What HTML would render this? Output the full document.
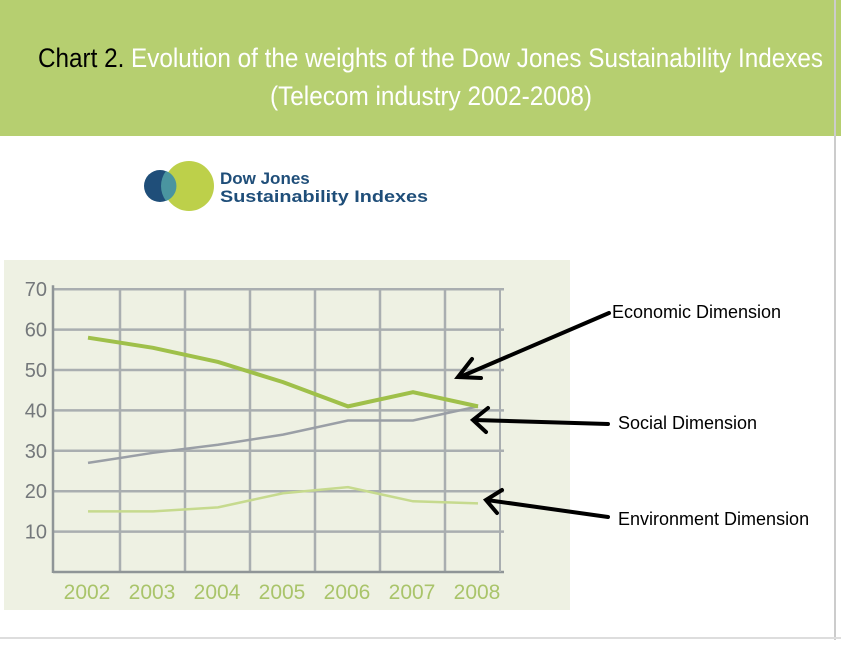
<!DOCTYPE html>
<html><head><meta charset="utf-8"><style>
body{margin:0;width:841px;height:640px;overflow:hidden;background:#fff;font-family:"Liberation Sans",Arial,sans-serif}
</style></head><body>
<svg width="841" height="640" viewBox="0 0 841 640" xmlns="http://www.w3.org/2000/svg">
<rect x="0" y="0" width="841" height="136" fill="#b6cf70"/>
<line x1="835" y1="0" x2="835" y2="640" stroke="#ccc" stroke-width="2"/>
<line x1="0" y1="638" x2="841" y2="638" stroke="#ddd" stroke-width="2"/>
<text x="38" y="67" font-size="27" textLength="785" lengthAdjust="spacingAndGlyphs"><tspan fill="#000">Chart 2.</tspan><tspan fill="#fff">  Evolution of the weights of the Dow Jones Sustainability Indexes</tspan></text>
<text x="270" y="105" font-size="27" fill="#fff" textLength="322" lengthAdjust="spacingAndGlyphs">(Telecom industry 2002-2008)</text>
<g>
<circle cx="160" cy="186" r="16" fill="#1f4e79"/>
<circle cx="189" cy="186" r="25" fill="#bdd04a"/>
<path d="M166 171 A16 16 0 0 1 166 201 A25 25 0 0 1 166 171Z" fill="#4a95a0"/>
<text x="220" y="184" font-size="17" font-weight="bold" fill="#1f4e79">Dow Jones</text>
<text x="220" y="202" font-size="17" font-weight="bold" fill="#1f4e79" textLength="208" lengthAdjust="spacingAndGlyphs">Sustainability Indexes</text>
</g>
<rect x="4" y="260" width="566" height="350" fill="#eef1e3"/>
<g id="grid"></g><g id="series"></g>
<g stroke="#000" stroke-width="4" fill="none" stroke-linecap="round">
<line x1="609" y1="313" x2="460" y2="377"/><polyline points="472,359 458,377 481,378"/>
<line x1="608" y1="424" x2="474" y2="420"/><polyline points="488,408 473,420 486,432"/>
<line x1="608" y1="517" x2="487" y2="500"/><polyline points="502,490 486,500 497,513"/>
</g>
<text x="612" y="318" font-size="18">Economic Dimension</text>
<text x="618" y="429" font-size="18">Social Dimension</text>
<text x="618" y="525" font-size="18">Environment Dimension</text>
</svg>
<script>
const years=["2002","2003","2004","2005","2006","2007","2008"];
const yTicks=[10,20,30,40,50,60,70];
const economic=[58,55.5,52,47,41,44.5,41];
const social=[27,29.5,31.5,34,37.5,37.5,41];
const environment=[15,15,16,19.5,21,17.5,17];
const NS="http://www.w3.org/2000/svg";
const x=i=>88+i*65, y=v=>572-v*4.04;
function mk(t,a,p){const e=document.createElementNS(NS,t);for(const k in a)e.setAttribute(k,a[k]);p.appendChild(e);return e;}
const g=document.getElementById('grid'), s=document.getElementById('series');
yTicks.forEach(v=>{
 const l=mk('line',{x1:53,x2:504,y1:y(v),y2:y(v),stroke:'#a9aeb0','stroke-width':2.5},g);
 
 
 const t=mk('text',{x:47,y:y(v)+7,'font-size':20,fill:'#74787b','text-anchor':'end'},g);t.textContent=v;
 
 
});
years.forEach((yr,i)=>{
 const gx=x(i)+32;
 if(i<6){const l=mk('line',{x1:gx,x2:gx,y1:y(70),y2:572,stroke:'#a9aeb0','stroke-width':2.5},g);
 
 }
 const t=mk('text',{x:x(i)-1,y:599,'font-size':21,fill:'#a9c46a','text-anchor':'middle'},g);t.textContent=yr;
 
 
});
mk('line',{x1:53,x2:53,y1:y(70)-4,y2:573,stroke:'#8f9597','stroke-width':2.5},g);
mk('line',{x1:53,x2:504,y1:572,y2:572,stroke:'#8f9597','stroke-width':2.5},g);
mk('line',{x1:500,x2:500,y1:y(70),y2:572,stroke:'#a9aeb0','stroke-width':2},g);
function line(arr,col,w,name){const p=mk('polyline',{points:arr.map((v,i)=>x(i)+','+y(v)).join(' '),fill:'none',stroke:col,'stroke-width':w},s);
 
 }
line(environment,'#c6da8e',2.5,'environment-line');
line(social,'#9a9fa6',2.5,'social-line');
line(economic,'#9fc04a',4,'economic-line');
</script>
</body></html>
